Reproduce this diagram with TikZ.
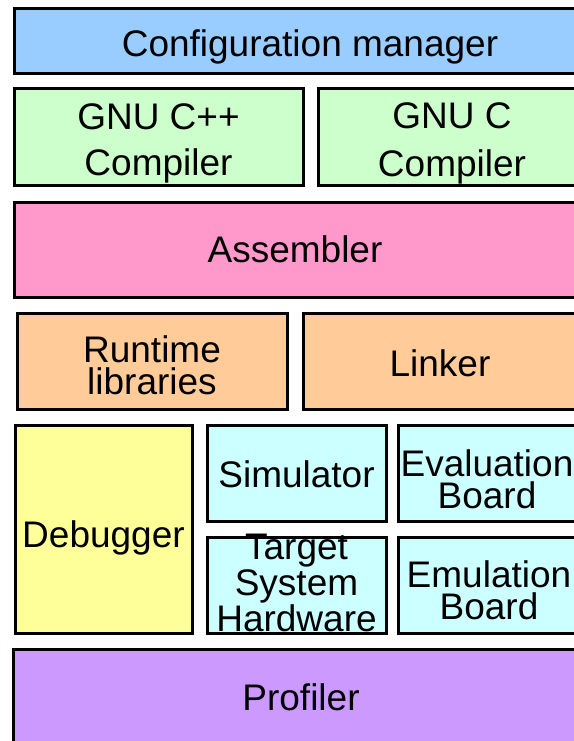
\documentclass[tikz,border=0pt]{standalone}
\usepackage{fontspec}
\setmainfont{Liberation Sans}
\definecolor{confblue}{RGB}{153,204,255}
\definecolor{compgreen}{RGB}{204,255,204}
\definecolor{asmpink}{RGB}{255,153,204}
\definecolor{linkorange}{RGB}{255,204,153}
\definecolor{dbgyellow}{RGB}{255,255,153}
\definecolor{targetcyan}{RGB}{204,255,255}
\definecolor{profpurple}{RGB}{204,153,255}
\tikzset{
  block/.style={draw, line width=1.5pt, inner sep=0pt},
  label text/.style={inner sep=0pt, align=center, font=\fontsize{18.5}{16.2}\selectfont},
  wideline/.style={font=\fontsize{18.5}{23}\selectfont},
}
\begin{document}
\begin{tikzpicture}[x=0.5pt,y=-0.5pt]
	\useasboundingbox (0,0) rectangle (574,741);
	\clip (0,0) rectangle (574,741);
	
	% Konfiguration
	\node[block, fill=confblue, minimum width=296pt, minimum height=32.5pt] (conf) at (310,40.5) {};
	\node[label text] (conf-t) at ([yshift=-3pt]conf.center) {Configuration manager};
	
	% Compiler
	\node[block, fill=compgreen, minimum width=144.5pt, minimum height=48.5pt] (cpp) at (158.5,136.5) {};
	\node[label text, wideline] (cpp-t) at ([yshift=-3.5pt]cpp.center) {GNU C++\\Compiler};
	\node[block, fill=compgreen, minimum width=134pt, minimum height=48.5pt] (gnuc) at (452,136.5) {};
	\node[label text, font=\fontsize{18.5}{24}\selectfont] (gnuc-t) at ([yshift=-3.5pt]gnuc.center) {GNU C\\Compiler};
	
	% Assembler
	\node[block, fill=asmpink, minimum width=281pt, minimum height=47.5pt] (asm) at (295,249.5) {};
	\node[label text] (asm-t) at (asm.center) {Assembler};
	
	% Bibliotheken und Linker
	\node[block, fill=linkorange, minimum width=135pt, minimum height=48pt] (rtl) at (152,361) {};
	\node[label text] (rtl-t) at ([yshift=-2pt]rtl.center) {Runtime\\libraries};
	\node[block, fill=linkorange, minimum width=137pt, minimum height=48pt] (linker) at (440,361) {};
	\node[label text] (linker-t) at ([yshift=-1pt]linker.center) {Linker};
	
	% Debugger
	\node[block, fill=dbgyellow, minimum width=88.5pt, minimum height=104pt] (dbg) at (103.5,529) {};
	\node[label text] (dbg-t) at ([yshift=-4.5pt]dbg.center) {Debugger};
	
	% Zielsysteme
	\node[block, fill=targetcyan, minimum width=89.5pt, minimum height=48pt] (sim) at (296.5,473) {};
	\node[label text] (sim-t) at ([yshift=-0.5pt]sim.center) {Simulator};
	\node[block, fill=targetcyan, minimum width=89pt, minimum height=48pt] (eval) at (487,473) {};
	\node[label text] (eval-t) at ([yshift=-3pt]eval.center) {Evaluation\\Board};
	\node[block, fill=targetcyan, minimum width=89.5pt, minimum height=48pt] (tsh) at (296.5,585) {};
	\node[label text, font=\fontsize{18.5}{15.5}\selectfont] (tsh-t) at ([yshift=1pt]tsh.center) {Target\\System\\Hardware};
	\node[block, fill=targetcyan, minimum width=91pt, minimum height=48pt] (emu) at (489,585) {};
	\node[label text] (emu-t) at ([yshift=-2.5pt]emu.center) {Emulation\\Board};
	
	% Profiler
	\node[block, fill=profpurple, minimum width=288pt, minimum height=48pt] (prof) at (301,697) {};
	\node[label text] (prof-t) at (prof.center) {Profiler};
\end{tikzpicture}
\end{document}
